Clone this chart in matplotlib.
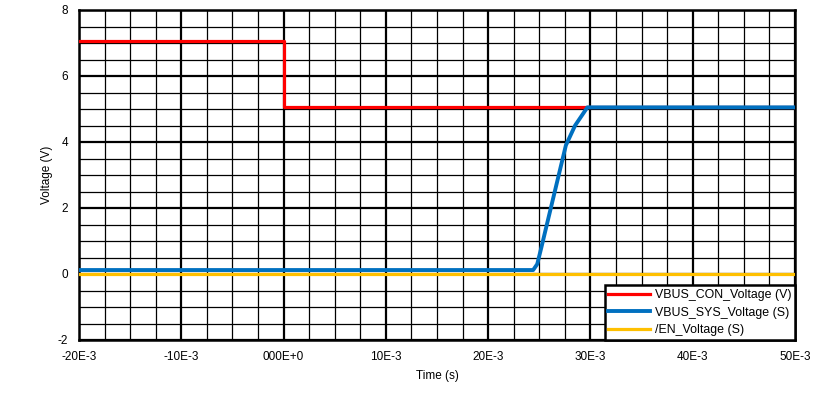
import matplotlib
matplotlib.use('Agg')
from matplotlib import pyplot as plt
from matplotlib.ticker import MultipleLocator
import numpy as np

# values (time in s, voltage in V)
con_t = [-20e-3, 0.0, 0.0, 50e-3]
con_v = [7.07, 7.07, 5.05, 5.05]

sys_t = [-20e-3, 24.4e-3, 24.8e-3, 25.2e-3, 27.6e-3, 28.5e-3, 29.7e-3, 50e-3]
sys_v = [0.12, 0.12, 0.3, 0.8, 3.9, 4.5, 5.05, 5.05]

en_t = [-20e-3, 50e-3]
en_v = [0.0, 0.0]

xticks = [-20e-3, -10e-3, 0.0, 10e-3, 20e-3, 30e-3, 40e-3, 50e-3]
xlabels = ['-20E-3', '-10E-3', '000E+0', '10E-3', '20E-3', '30E-3', '40E-3', '50E-3']
yticks = [-2, 0, 2, 4, 6, 8]

plt.rcParams['font.family'] = ['Liberation Sans', 'DejaVu Sans']
plt.rcParams['font.size'] = 8.5
plt.rcParams['axes.unicode_minus'] = False

fig = plt.figure(figsize=(8.26, 4.01), dpi=100)
ax = fig.add_axes([79 / 826, 61 / 401, 716 / 826, 330 / 401])

ax.plot(con_t, con_v, color='#FF0000', lw=2.3, label='VBUS_CON_Voltage (V)', zorder=3)
ax.plot(sys_t, sys_v, color='#0070C0', lw=2.8, label='VBUS_SYS_Voltage (S)', zorder=4)
ax.plot(en_t, en_v, color='#FFC000', lw=2.3, label='/EN_Voltage (S)', zorder=3)

ax.set_xlim(-20e-3, 50e-3)
ax.set_ylim(-2, 8)
ax.set_xticks(xticks)
ax.set_xticklabels(xlabels)
ax.set_yticks(yticks)
ax.xaxis.set_minor_locator(MultipleLocator(2.5e-3))
ax.yaxis.set_minor_locator(MultipleLocator(0.5))
ax.grid(which='major', color='black', lw=1.6)
ax.grid(which='minor', color='black', lw=0.9)
ax.set_axisbelow(True)
ax.tick_params(which='both', length=0, pad=8)
for s in ax.spines.values():
    s.set_linewidth(1.8)

ax.set_xlabel('Time (s)', labelpad=5)
ax.set_ylabel('Voltage (V)', labelpad=3)

leg = ax.legend(loc='lower right', fancybox=False, framealpha=1, edgecolor='black',
                borderaxespad=0, handlelength=3.4, handletextpad=0.35, fontsize=8.9,
                borderpad=0.3, labelspacing=0.45)
leg.get_frame().set_linewidth(1.8)
leg.set_zorder(10)

plt.savefig('out.png', dpi=100)
